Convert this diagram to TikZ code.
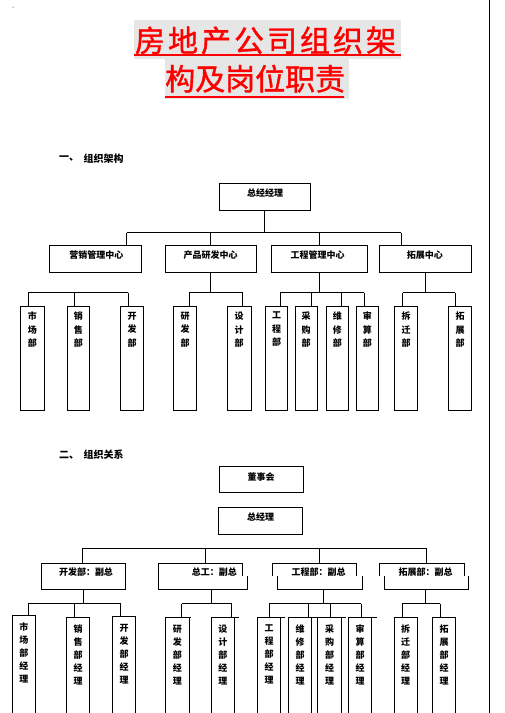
\documentclass[tikz,border=0pt]{standalone}
\usepackage{fontspec}
\newfontfamily\cjk{Noto Sans CJK SC}
\newfontfamily\cjkt[FakeBold=1.2]{Noto Sans CJK SC}
\definecolor{titlebg}{HTML}{E6E6E6}
\tikzset{
  ln/.style={draw=black, line width=1pt},
  boxs/.style={draw=black, line width=1pt, inner sep=0pt, outer sep=0pt},
  lbl/.style={font=\cjk\bfseries\fontsize{9}{9}\selectfont, inner sep=0pt},
  vl/.style={font=\cjk\bfseries\fontsize{9}{13.5}\selectfont, inner sep=0pt, align=center, anchor=north},
  vll/.style={font=\cjk\bfseries\fontsize{9}{13}\selectfont, inner sep=0pt, align=center, anchor=north},
  hd/.style={font=\cjk\bfseries\fontsize{10}{10}\selectfont, inner sep=0pt, anchor=west},
  ttl/.style={font=\cjkt\fontsize{30}{30}\selectfont, text=red, inner sep=0pt, anchor=west},
  uline/.style={draw=red, line width=1.8pt}
}
\newcommand\bx[5]{\node[boxs, minimum width={#4-#2}, minimum height={#5-#3}, anchor=north west] (#1) at (#2,#3) {};}
\newcommand\ob[6]{%
  \coordinate (#1) at ({(#2+#3)/2},#4);
  \draw[ln] (#2,713) -- (#2,#4) -- (#5,#4);
  \draw[ln] (#3,#4) -- (#3,713);
  \node[vll] at ([yshift=-7.5pt]#1) {#6};}
% jogged box: name, top-left x, top-right x, bottom-left x, bottom-right x
\newcommand\jb[5]{%
  \coordinate (#1) at ({(#2+#3)/2},563.3);
  \coordinate (#1b) at ({(#4+#5)/2},589.3);
  \draw[ln] (#2,576) -- (#2,563.3) -- (#3,563.3) -- (#3,576);
  \draw[ln] (#4,576) -- (#4,589.3) -- (#5,589.3) -- (#5,576);}
\begin{document}
\begin{tikzpicture}[x=1pt,y=-1pt]
\useasboundingbox (0,0) rectangle (504,713);
\fill (13,7) circle (0.5);
\draw[ln] (489.5,0) -- (489.5,713);
% ---------- title
\fill[titlebg] (134,20) rectangle (400.7,59.3);
\fill[titlebg] (165,59.3) rectangle (349,99);
\draw[uline] (134,54.8) -- (400.7,54.8);
\draw[uline] (165,97.2) -- (344,97.2);
\node[ttl] (t1) at (134.8,40.5) {\addfontfeature{LetterSpace=10}房地产公司组织架};
\node[ttl] (t2) at (165,78.7) {构及岗位职责};
% ---------- section 1
\node[hd] (h1a) at (59,158.3) {一、};
\node[hd] (h1b) at (83.5,158.3) {组织架构};
\bx{A}{219}{183}{310}{210}
\node[lbl] at (265,193.5) {总经经理};
\bx{B1}{49.3}{245}{141}{272}
\bx{B2}{165.7}{245}{256}{272}
\bx{B3}{271.3}{245}{367}{272}
\bx{B4}{379.3}{245}{471.3}{272}
\node[lbl] at (96.3,255) {营销管理中心};
\node[lbl] at (210.7,255) {产品研发中心};
\node[lbl] at (317.5,255) {工程管理中心};
\node[lbl] at (424.8,255) {拓展中心};
\coordinate (busL) at (126.7,232.5);
\coordinate (busR) at (401,232.5);
\draw[ln] (A.south) -- (A.south |- busL);
\draw[ln] (busL) -- (busR);
\draw[ln] (busL) -- (busL |- B1.north);
\draw[ln] (B2.north |- busL) -- (B2.north);
\draw[ln] (B3.north |- busL) -- (B3.north);
\draw[ln] (busR) -- (busR |- B4.north);
% level 3
\foreach \n/\a/\b/\t in {c1/20.3/44.3/市\\场\\部, c2/67.3/89.3/销\\售\\部, c3/120.7/143.3/开\\发\\部,
  c4/173.3/196.7/研\\发\\部, c5/227.3/251/设\\计\\部, c6/265.3/287.7/工\\程\\部,
  c7/295.3/317/采\\购\\部, c8/326/348.7/维\\修\\部, c9/356/378.7/审\\算\\部,
  c10/394.3/417.7/拆\\迁\\部, c11/448.7/471.3/拓\\展\\部}{
  \bx{\n}{\a}{306}{\b}{410.5}
  \node[vl] at ([yshift=-5.8pt]\n.north) {\t};
}
\coordinate (g1L) at (28.3,292.7);
\coordinate (g1M) at (74,292.7);
\coordinate (g1R) at (128.3,292.7);
\draw[ln] (g1L) -- (g1R);
\draw[ln] (g1L) -- (g1L |- c1.north);
\draw[ln] (g1M) -- (g1M |- c2.north);
\draw[ln] (g1R) -- (g1R |- c3.north);
\coordinate (g2L) at (189.3,292.7);
\coordinate (g2R) at (242.7,292.7);
\draw[ln] (B2.south) -- (B2.south |- g2L);
\draw[ln] (g2L) -- (g2R);
\draw[ln] (g2L) -- (g2L |- c4.north);
\draw[ln] (g2R) -- (g2R |- c5.north);
\coordinate (g3a) at (280.3,292.7);
\coordinate (g3b) at (311.3,292.7);
\coordinate (g3c) at (341.3,292.7);
\coordinate (g3d) at (364.3,292.7);
\draw[ln] (B3.south) -- (B3.south |- g3a);
\draw[ln] (g3a) -- (g3d);
\draw[ln] (g3a) -- (g3a |- c6.north);
\draw[ln] (g3b) -- (g3b |- c7.north);
\draw[ln] (g3c) -- (g3c |- c8.north);
\draw[ln] (g3d) -- (g3d |- c9.north);
\coordinate (g4L) at (402.7,292.7);
\coordinate (g4R) at (455.3,292.7);
\draw[ln] (B4.south) -- (B4.south |- g4L);
\draw[ln] (g4L) -- (g4R);
\draw[ln] (g4L) -- (g4L |- c10.north);
\draw[ln] (g4R) -- (g4R |- c11.north);
% ---------- section 2
\node[hd] (h2a) at (59,455) {二、};
\node[hd] (h2b) at (83.5,455) {组织关系};
\bx{E}{219}{466}{303.7}{492.3}
\node[lbl] at (261,476.7) {董事会};
\bx{F}{218.3}{507.7}{302.7}{534.3}
\node[lbl] at (260.5,517.3) {总经理};
\bx{H1}{41.3}{563.3}{125.7}{589.3}
\node[lbl] at (86,572.3) {开发部：副总};
\jb{H2}{158.3}{242.7}{158.3}{247.7}
\jb{H3}{272.7}{356.7}{277.5}{362.3}
\jb{H4}{379.3}{464}{384.3}{468.3}
\node[lbl] at (214.3,572.3) {总工：副总};
\node[lbl] at (318.7,572.3) {工程部：副总};
\node[lbl] at (425.5,572.3) {拓展部：副总};
\coordinate (mL) at (82,548.3);
\coordinate (mA) at (205,548.3);
\coordinate (mB) at (319.7,548.3);
\coordinate (mR) at (426,548.3);
\draw[ln] (mL) -- (mR);
\draw[ln] (mL) -- (mL |- H1.north);
\draw[ln] (mA) -- (mA |- H2);
\draw[ln] (mB) -- (mB |- H3);
\draw[ln] (mR) -- (mR |- H4);
% level 3 open boxes
\ob{d1}{12.3}{35.7}{615}{35.7}{市\\场\\部\\经\\理}
\ob{d2}{66.7}{89.3}{617.3}{89.3}{销\\售\\部\\经\\理}
\ob{d3}{112.3}{135.7}{616.7}{135.7}{开\\发\\部\\经\\理}
\ob{d4}{165.7}{189}{617.3}{190.7}{研\\发\\部\\经\\理}
\ob{d5}{211.7}{234}{617.3}{239}{设\\计\\部\\经\\理}
\ob{d6}{257.3}{280.7}{617.3}{285}{工\\程\\部\\经\\理}
\ob{d7}{288.3}{311.7}{617.3}{316.7}{维\\修\\部\\经\\理}
\ob{d8}{317.3}{341.7}{617.3}{346}{采\\购\\部\\经\\理}
\ob{d9}{348.3}{371.7}{617.3}{376.7}{审\\算\\部\\经\\理}
\ob{d10}{394}{417.3}{617.3}{417.3}{拆\\迁\\部\\经\\理}
\ob{d11}{432.3}{455.7}{617.3}{455.7}{拓\\展\\部\\经\\理}
\coordinate (k1L) at (28.3,603.5);
\coordinate (k1M) at (74,603.5);
\coordinate (k1R) at (120.7,603.5);
\draw[ln] (H1.south) -- (H1.south |- k1L);
\draw[ln] (k1L) -- (k1R);
\draw[ln] (k1L) -- (k1L |- d1);
\draw[ln] (k1M) -- (k1M |- d2);
\draw[ln] (k1R) -- (k1R |- d3);
\coordinate (k2s) at (211.7,589.3);
\coordinate (k2L) at (181.7,603.5);
\coordinate (k2R) at (231.7,603.5);
\draw[ln] (k2s) -- (k2s |- k2L);
\draw[ln] (k2L) -- (k2R);
\draw[ln] (k2L) -- (k2L |- d4);
\draw[ln] (k2R) -- (k2R |- d5);
\coordinate (k3s) at (323.5,589.3);
\coordinate (k3a) at (269.3,603.5);
\coordinate (k3b) at (308.3,603.5);
\coordinate (k3c) at (330.3,603.5);
\coordinate (k3d) at (361.3,603.5);
\draw[ln] (k3s) -- (k3s |- k3a);
\draw[ln] (k3a) -- (k3d);
\draw[ln] (k3a) -- (k3a |- d6);
\draw[ln] (k3b) -- (k3b |- d7);
\draw[ln] (k3c) -- (k3c |- d8);
\draw[ln] (k3d) -- (k3d |- d9);
\coordinate (k4s) at (425.7,589.3);
\coordinate (k4L) at (402.3,603.5);
\coordinate (k4R) at (440,603.5);
\draw[ln] (k4s) -- (k4s |- k4L);
\draw[ln] (k4L) -- (k4R);
\draw[ln] (k4L) -- (k4L |- d10);
\draw[ln] (k4R) -- (k4R |- d11);
\end{tikzpicture}
\end{document}
